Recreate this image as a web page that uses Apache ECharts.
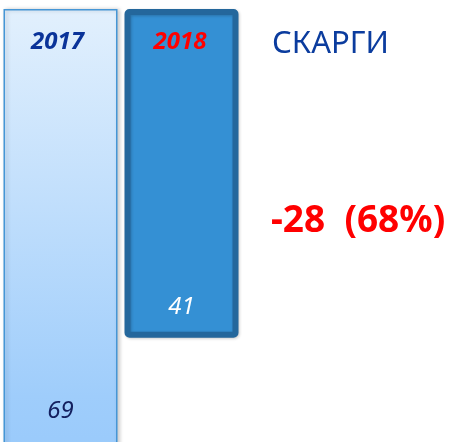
<!DOCTYPE html>
<html>
<head>
<meta charset="utf-8">
<script src="https://cdn.jsdelivr.net/npm/echarts@6/dist/echarts.min.js"></script>
<style>
  html, body { margin: 0; padding: 0; background: #fff; }
  #main { width: 450px; height: 442px; }
</style>
</head>
<body>
<div id="main"></div>
<script>
// data
const years = ["2017", "2018"];
const complaints = [69, 41];
const title = "СКАРГИ";
const changeText = "-28  (68%)";

const chart = echarts.init(document.getElementById("main"));

chart.setOption({
  animation: false,
  grid: { left: 0, top: 9, width: 242, bottom: 0 },
  title: [
    {
      text: title,
      left: 267,
      top: 24,
      textStyle: { fontFamily: "Noto Sans", fontSize: 31, fontWeight: "normal", color: "#0b3c9e" },
    },
    {
      text: changeText,
      left: 266,
      top: 198,
      textStyle: { fontFamily: "Noto Sans", fontSize: 37, fontWeight: "bold", color: "#ff0000" },
    },
  ],
  xAxis: {
    type: "category",
    data: years,
    position: "top",
    z: 10,
    axisLine: { show: false },
    axisTick: { show: false },
    axisLabel: {
      inside: true,
      margin: 21,
      formatter: (v, i) => (i === 0 ? "{a|" + v + "}" : "{b|" + v + "}"),
      rich: {
        a: { fontFamily: "Noto Sans", fontSize: 24, fontWeight: "bold", fontStyle: "italic", color: "#0a3399", padding: [0, 6, 0, 0] },
        b: { fontFamily: "Noto Sans", fontSize: 24, fontWeight: "bold", fontStyle: "italic", color: "#ff0000", padding: [0, 3, 0, 0] },
      },
    },
  },
  yAxis: {
    type: "value",
    inverse: true,
    min: 0,
    max: 54,
    show: false,
    splitLine: { show: false },
  },
  series: [
    {
      type: "bar",
      barWidth: 114,
      clip: false,
      z: 1,
      data: [
        {
          value: complaints[0],
          itemStyle: {
            color: {
              type: "linear", x: 0, y: 0, x2: 0, y2: 1,
              colorStops: [
                { offset: 0, color: "#e2f0fd" },
                { offset: 0.7, color: "#9fcdfb" },
                { offset: 1, color: "#8fc5fb" },
              ],
            },
            borderColor: "#4596d6",
            borderWidth: 1.5,
            shadowColor: "rgba(0,0,0,0.2)",
            shadowBlur: 4,
            shadowOffsetX: 2,
          },
          label: { color: "#131f5e", position: ["50%", 402] },
        },
        {
          value: complaints[1],
          itemStyle: {
            color: "#3490d4",
            borderColor: "#24679c",
            borderWidth: 6,
            borderRadius: 2,
            shadowColor: "rgba(0,0,0,0.2)",
            shadowBlur: 3,
            shadowOffsetX: 1,
            shadowOffsetY: 1,
          },
          label: { color: "#ffffff", position: ["50%", 298] },
        },
      ],
      label: {
        show: true,
        align: "center",
        verticalAlign: "middle",
        fontFamily: "Noto Sans",
        fontSize: 24,
        fontStyle: "italic",
      },
    },
  ],
});
</script>
</body>
</html>
